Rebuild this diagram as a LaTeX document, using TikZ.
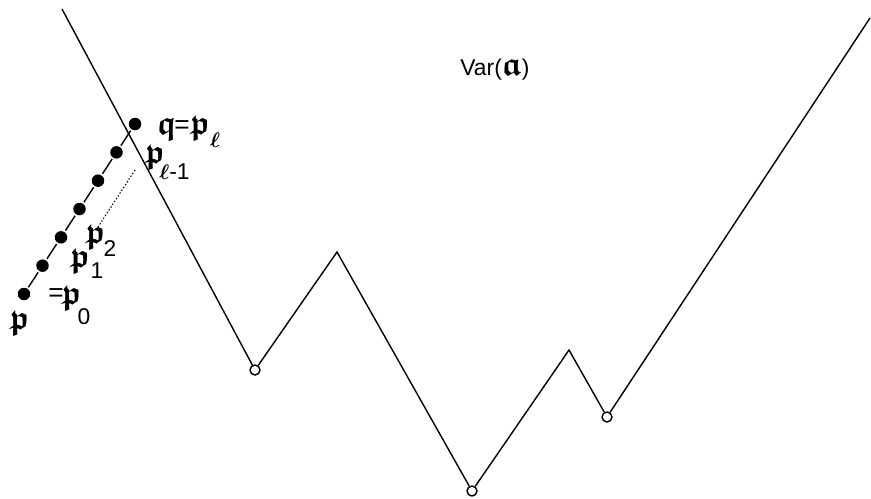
\documentclass[tikz,border=0pt]{standalone}
\usepackage{amsmath}
\usepackage{amssymb}
\usepackage{fontspec}
\setmainfont{Liberation Sans}
\usetikzlibrary{positioning}

\newcommand{\fk}[1]{{\fontsize{19}{19}\selectfont$\boldsymbol{\mathfrak{#1}}$}}
\newcommand{\lidx}{$\boldsymbol{\ell}$}

\begin{document}
\begin{tikzpicture}[
  x=0.02cm, y=-0.02cm,
  font=\fontsize{13}{15}\selectfont,
  vtx/.style={circle, draw, fill=white, line width=0.8pt, inner sep=0pt, minimum size=2mm},
  pt/.style={circle, fill, inner sep=0pt, minimum size=2.5mm, outer sep=1pt},
  lbl/.style={inner sep=0pt},
  eqs/.style={inner sep=0pt, font=\fontsize{15}{15}\selectfont}
]
  \useasboundingbox (0,0) rectangle (871,498);

  % the variety
  \coordinate (top) at (62,9);
  \node[vtx] (v1) at (255,370) {};
  \coordinate (pk1) at (337,252);
  \node[vtx] (v2) at (472,491) {};
  \coordinate (pk2) at (569,350);
  \node[vtx] (v3) at (607,417) {};
  \coordinate (end) at (870,18);
  \draw[line width=0.8pt] (top) -- (v1) -- (pk1) -- (v2) -- (pk2) -- (v3) -- (end);
  \node (var) at (495,70) {Var(\fk{a})};

  % the chain of points
  \foreach \i in {0,...,6}
    \node[pt] (d\i) at ({24+18.5*\i},{294-28.33*\i}) {};
  \foreach \i [count=\j from 1] in {0,...,5}
    \draw[line width=0.8pt] (d\i) -- (d\j);

  \coordinate (dt1) at (135,170);
  \coordinate (dt2) at (98,227);
  \draw[line width=0.6pt, dash pattern=on 0.8pt off 1.1pt] (dt1) -- (dt2);

  % labels
  \node[lbl] (p) at (19.5,324) {\fk{p}};
  \node[eqs] (eq0) at (56,295) {=};
  \node[lbl] (p0) at (71.5,298.5) {\fk{p}};
  \node[lbl] (s0) at (84,317) {0};
  \node[lbl] (p1) at (80,262) {\fk{p}};
  \node[lbl] (s1) at (97,271) {1};
  \node[lbl] (p2) at (95.5,238) {\fk{p}};
  \node[lbl] (s2) at (110,249) {2};
  \node[lbl] (pl1) at (155,157.5) {\fk{p}};
  \node[lbl] (sl1) at (174.5,172) {\lidx-1};
  \node[lbl] (q) at (166.5,129.5) {\fk{q}};
  \node[eqs] (eq) at (182,127) {=};
  \node[lbl] (pl) at (200,129) {\fk{p}};
  \node[lbl] (sl) at (215,140) {\lidx};
\end{tikzpicture}
\end{document}
